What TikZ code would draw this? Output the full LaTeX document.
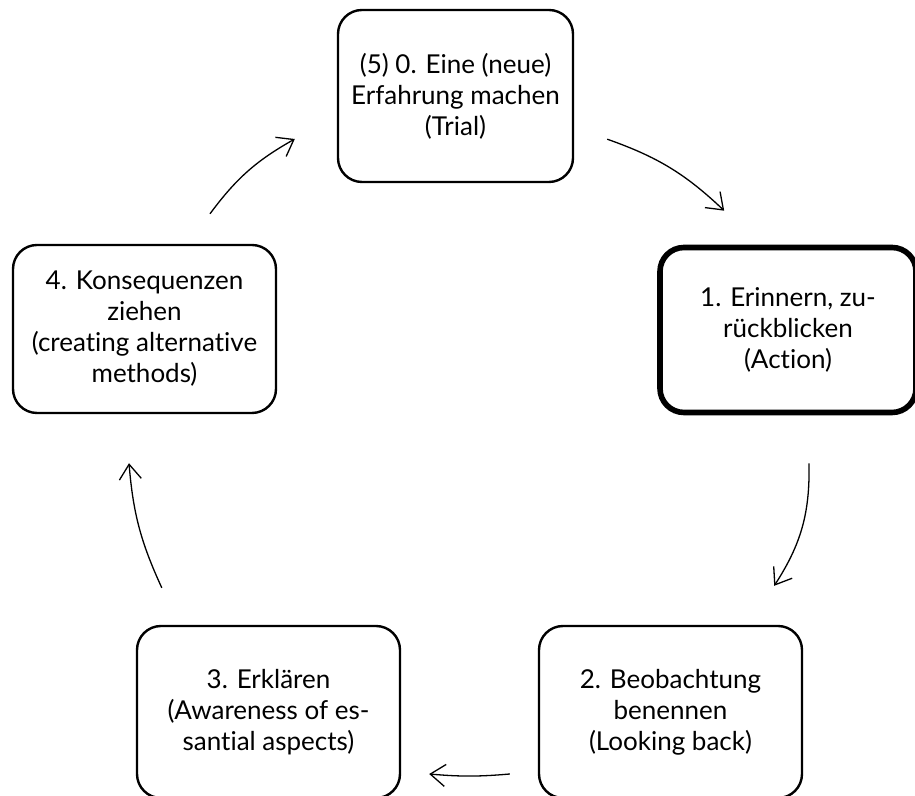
\documentclass[tikz,border=0pt]{standalone}
\usepackage{fontspec}
\setmainfont[Ligatures={NoCommon}]{Lato}
\usetikzlibrary{arrows.meta, positioning}
\tikzset{
  stage/.style={draw, rounded corners=12pt, line width=1.2pt, align=center,
    font=\fontsize{13}{15.5}\selectfont, inner sep=0pt},
  stagebold/.style={stage, line width=2.8pt},
  cycle/.style={->, line width=0.65pt}
}

\begin{document}
\begin{tikzpicture}[x=0.5pt, y=0.5pt, >={Straight Barb[length=7.5pt,width=11pt]}]
\useasboundingbox (0,0) rectangle (915,796);
% the five stages
\node[stage, minimum width=117.5pt, minimum height=86pt] (t0) at (455.5,700) {(5) 0. Eine (neue)\\Erfahrung machen\\(Trial)};
\node[stagebold, minimum width=128pt, minimum height=82.5pt] (t1) at (788,466) {1. Erinnern, zu-\\rückblicken\\(Action)};
\node[stage, minimum width=131.5pt, minimum height=86pt] (t2) at (670.5,84) {2. Beobachtung\\benennen\\(Looking back)};
\node[stage, minimum width=131.5pt, minimum height=86pt] (t3) at (268.5,84) {3. Erklären\\(Awareness of es-\\santial aspects)};
\node[stage, minimum width=131.5pt, minimum height=84pt] (t4) at (144.5,467) {4. Konsequenzen\\ziehen\\(creating alternative\\methods)};
% arrows round the cycle
\draw[cycle] ([shift={(33,44)}]t0.south east) to[bend left=12] ([shift={(67,34)}]t1.north west);
\draw[cycle] ([shift={(21,-48)}]t1.south) to[bend left=17] ([shift={(-29,39)}]t2.north east);
\draw[cycle] ([shift={(-28,-62)}]t2.west) to[bend left=5] ([shift={(28,-62)}]t3.east);
\draw[cycle] ([shift={(26,37)}]t3.north west) to[bend left=10] ([shift={(-15.5,-49)}]t4.south);
\draw[cycle] ([shift={(65.5,30)}]t4.north) to[bend left=12] ([shift={(-42,-43)}]t0.west);
\end{tikzpicture}
\end{document}
